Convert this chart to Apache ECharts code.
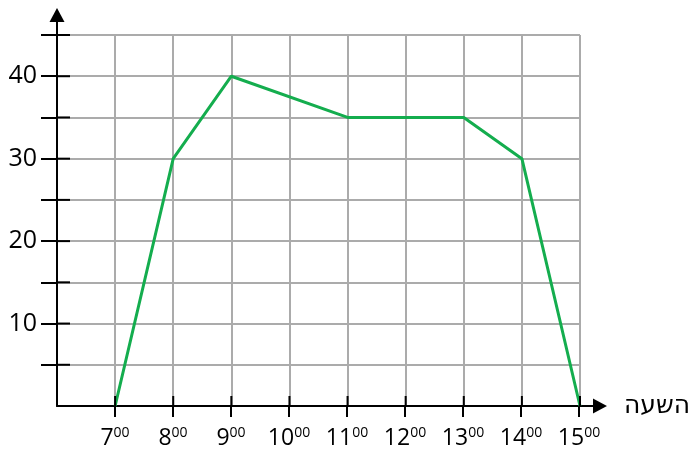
<!DOCTYPE html>
<html>
<head>
<meta charset="utf-8">
<script src="https://cdn.jsdelivr.net/npm/echarts@6/dist/echarts.min.js"></script>
<style>
  html, body { margin: 0; padding: 0; background: #fff; }
  #chart { width: 693px; height: 450px; }
</style>
</head>
<body>
<div id="chart"></div>
<script>
// Hours of the day and the measured values at each hour
const hours = [7, 8, 9, 11, 13, 14, 15];
const values = [0, 30, 40, 35, 35, 30, 0];
const hourTicks = [7, 8, 9, 10, 11, 12, 13, 14, 15];
const valueTicks = [5, 10, 15, 20, 25, 30, 35, 40, 45];
const valueLabels = [10, 20, 30, 40];
const xTitle = 'השעה';

const FONT = 'Open Sans';
const AXIS = '#000';
const GRID = '#ababab';

// plot box: 6..15 h across, 0..45 up
const X0 = 57, X1 = 580, Y0 = 406, Y1 = 35;
const pxPerHour = (X1 - X0) / 9;
const pxPerUnit = (Y0 - Y1) / 45;
// arrowed axes run a little past the box
const arrowX = 601, arrowY = 15;
const xArrowMax = 6 + (arrowX - X0) / pxPerHour;
const yArrowMax = (Y0 - arrowY) / pxPerUnit;
const innerTickY = 13, innerTickX = 10;

const chart = echarts.init(document.getElementById('chart'), null, { renderer: 'canvas' });

const hourLabel = v => '{a|' + v + '}{b|00}';
const tickStyle = { color: AXIS, width: 2 };

// tick stubs on the plot side of each axis, so the ticks cross the axis lines
function stubSeries(points, w, h) {
  return {
    type: 'custom',
    xAxisIndex: 0, yAxisIndex: 0,
    data: points,
    silent: true, clip: false, z: 6,
    renderItem: (params, api) => {
      const p = api.coord([api.value(0), api.value(1)]);
      // a thin bar starting at the axis and reaching into the plot
      return {
        type: 'rect',
        shape: h > 0
          ? { x: p[0], y: p[1] - 1, width: w, height: 2 }
          : { x: p[0] - 1, y: p[1] - w, width: 2, height: w },
        style: { fill: AXIS }
      };
    }
  };
}

chart.setOption({
  animation: false,
  backgroundColor: '#fff',
  grid: [
    { left: X0, top: Y1, right: 693 - X1, bottom: 450 - Y0 },
    { left: X0, top: arrowY, right: 693 - arrowX, bottom: 450 - Y0 }
  ],
  xAxis: [
    {
      gridIndex: 0, type: 'value', min: 6, max: 15, interval: 1, position: 'bottom',
      axisLine: { show: false }, axisTick: { show: false }, axisLabel: { show: false },
      splitLine: { show: true, lineStyle: { color: GRID, width: 2 } }
    },
    {
      gridIndex: 1, type: 'value', min: 6, max: xArrowMax, position: 'bottom',
      name: xTitle, nameLocation: 'end', nameGap: 24,
      nameTextStyle: { fontFamily: 'DejaVu Sans', fontSize: 25, color: '#000', verticalAlign: 'middle' },
      axisLine: { show: true, lineStyle: { color: AXIS, width: 2 }, symbol: ['none', 'triangle'], symbolSize: [15, 14] },
      axisTick: { show: true, customValues: hourTicks, length: 11, lineStyle: tickStyle },
      axisLabel: {
        show: true, customValues: hourTicks, margin: 20,
        formatter: hourLabel,
        rich: {
          a: { fontFamily: FONT, fontSize: 23, color: '#000', lineHeight: 24 },
          b: { fontFamily: FONT, fontSize: 14, color: '#000', lineHeight: 16, verticalAlign: 'top' }
        }
      },
      splitLine: { show: false }
    }
  ],
  yAxis: [
    {
      gridIndex: 0, type: 'value', min: 0, max: 45, interval: 5, position: 'left',
      axisLine: { show: false }, axisTick: { show: false }, axisLabel: { show: false },
      splitLine: { show: true, lineStyle: { color: GRID, width: 2 } }
    },
    {
      gridIndex: 1, type: 'value', min: 0, max: yArrowMax, position: 'left',
      axisLine: { show: true, lineStyle: { color: AXIS, width: 2 }, symbol: ['none', 'triangle'], symbolSize: [15, 14] },
      axisTick: { show: true, customValues: valueTicks, length: 16, lineStyle: tickStyle },
      axisLabel: { show: true, customValues: valueLabels, margin: 20, fontFamily: FONT, fontSize: 25, color: '#000' },
      splitLine: { show: false }
    }
  ],
  series: [
    stubSeries(valueTicks.map(v => [6, v]), innerTickY, 1),
    stubSeries(hourTicks.map(h => [h, 0]), innerTickX, 0),
    {
      type: 'line',
      xAxisIndex: 0, yAxisIndex: 0,
      data: hours.map((h, i) => [h, values[i]]),
      showSymbol: false, symbol: 'none',
      lineStyle: { color: '#14ad4e', width: 3 },
      z: 5
    }
  ]
});
</script>
</body>
</html>
